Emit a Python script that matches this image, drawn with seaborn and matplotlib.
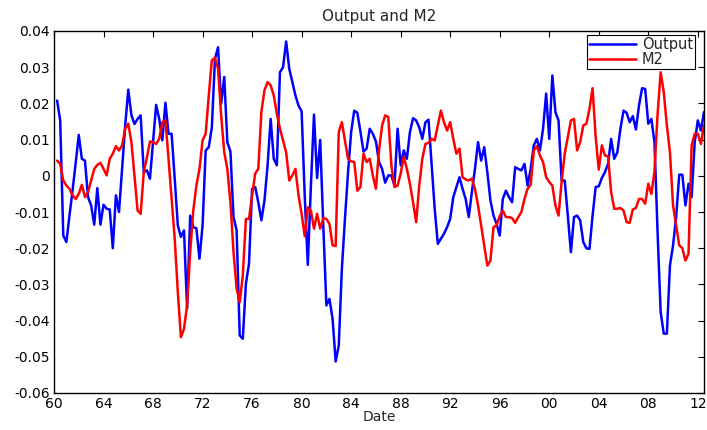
import numpy as np
import pandas as pd
import matplotlib
matplotlib.use("Agg")
import matplotlib.pyplot as plt
import seaborn as sns

# ---- data (quarterly, 1960Q2 .. 2012Q3) ----
start_year = 1960.25
step = 0.25

output = [
    0.0208, 0.0153, -0.0165, -0.0183, -0.0110, -0.0040, 0.0035, 0.0113, 0.0047, 0.0042,
    -0.0059, -0.0082, -0.0135, -0.0034, -0.0135, -0.0080, -0.0091, -0.0093, -0.0200, -0.0054,
    -0.0100, 0.0019, 0.0139, 0.0238, 0.0168, 0.0143, 0.0157, 0.0167, 0.0010, 0.0015,
    -0.0008, 0.0093, 0.0196, 0.0157, 0.0098, 0.0202, 0.0116, 0.0116, -0.0008, -0.0137,
    -0.0169, -0.0151, -0.0367, -0.0110, -0.0142, -0.0145, -0.0229, -0.0137, 0.0070, 0.0079,
    0.0134, 0.0323, 0.0355, 0.0199, 0.0273, 0.0093, 0.0067, -0.0114, -0.0151, -0.0441,
    -0.0450, -0.0298, -0.0243, -0.0036, -0.0031, -0.0073, -0.0123, -0.0068, 0.0029, 0.0157,
    0.0047, 0.0029, 0.0286, 0.0300, 0.0371, 0.0296, 0.0259, 0.0222, 0.0194, 0.0178,
    -0.0054, -0.0246, -0.0027, 0.0169, -0.0006, 0.0099, -0.0137, -0.0358, -0.0340, -0.0395,
    -0.0513, -0.0469, -0.0257, -0.0119, 0.0010, 0.0121, 0.0180, 0.0174, 0.0122, 0.0067,
    0.0075, 0.0130, 0.0116, 0.0095, 0.0038, 0.0019, -0.0019, 0.0001, 0.0001, -0.0027,
    0.0130, 0.0029, 0.0070, 0.0047, 0.0121, 0.0159, 0.0153, 0.0134, 0.0102, 0.0148,
    0.0155, 0.0031, -0.0092, -0.0188, -0.0174, -0.0160, -0.0142, -0.0119, -0.0059, -0.0031,
    -0.0004, -0.0036, -0.0064, -0.0114, -0.0045, 0.0019, 0.0093, 0.0042, 0.0079, 0.0010,
    -0.0068, -0.0110, -0.0133, -0.0165, -0.0064, -0.0041, -0.0059, -0.0073, 0.0024, 0.0019,
    0.0015, 0.0033, -0.0027, 0.0019, 0.0084, 0.0102, 0.0070, 0.0130, 0.0227, 0.0102,
    0.0277, 0.0176, 0.0153, -0.0013, -0.0013, -0.0110, -0.0211, -0.0114, -0.0110, -0.0123,
    -0.0183, -0.0200, -0.0202, -0.0110, -0.0031, -0.0029, -0.0006, 0.0010, 0.0033, 0.0102,
    0.0047, 0.0065, 0.0130, 0.0180, 0.0174, 0.0148, 0.0165, 0.0128, 0.0194, 0.0242,
    0.0240, 0.0144, 0.0157, 0.0093, -0.0156, -0.0377, -0.0436, -0.0436, -0.0248, -0.0192,
    -0.0114, 0.0003, 0.0003, -0.0082, -0.0022, -0.0059, 0.0093, 0.0153, 0.0125, 0.0176,
]

m2 = [
    0.0042, 0.0033, -0.0013, -0.0027, -0.0036, -0.0054, -0.0064, -0.0050, -0.0025, -0.0059,
    -0.0045, -0.0013, 0.0019, 0.0030, 0.0036, 0.0019, 0.0001, 0.0047, 0.0061, 0.0082,
    0.0070, 0.0084, 0.0130, 0.0144, 0.0093, 0.0001, -0.0096, -0.0105, 0.0010, 0.0050,
    0.0095, 0.0093, 0.0088, 0.0102, 0.0148, 0.0153, 0.0047, -0.0064, -0.0174, -0.0321,
    -0.0446, -0.0423, -0.0358, -0.0211, -0.0096, -0.0027, 0.0019, 0.0098, 0.0116, 0.0222,
    0.0319, 0.0326, 0.0296, 0.0167, 0.0065, 0.0019, -0.0073, -0.0211, -0.0312, -0.0349,
    -0.0275, -0.0119, -0.0119, -0.0054, 0.0006, 0.0019, 0.0176, 0.0236, 0.0259, 0.0250,
    0.0222, 0.0171, 0.0130, 0.0098, 0.0065, -0.0013, 0.0001, 0.0019, -0.0054, -0.0105,
    -0.0167, -0.0087, -0.0096, -0.0146, -0.0105, -0.0146, -0.0117, -0.0119, -0.0133, -0.0192,
    -0.0194, 0.0121, 0.0148, 0.0098, 0.0047, 0.0040, 0.0038, -0.0041, -0.0031, 0.0061,
    0.0038, 0.0047, 0.0001, -0.0036, 0.0070, 0.0139, 0.0167, 0.0162, 0.0029, -0.0031,
    -0.0027, 0.0006, 0.0052, 0.0019, -0.0022, -0.0073, -0.0128, -0.0027, 0.0047, 0.0088,
    0.0091, 0.0102, 0.0098, 0.0139, 0.0180, 0.0148, 0.0125, 0.0148, 0.0102, 0.0061,
    0.0075, -0.0004, -0.0010, -0.0013, -0.0008, -0.0036, -0.0082, -0.0137, -0.0192, -0.0248,
    -0.0234, -0.0142, -0.0137, -0.0111, -0.0096, -0.0114, -0.0114, -0.0117, -0.0130, -0.0114,
    -0.0100, -0.0064, -0.0036, -0.0025, 0.0070, 0.0082, 0.0056, 0.0038, -0.0004, -0.0017,
    -0.0027, -0.0082, -0.0110, -0.0017, 0.0061, 0.0107, 0.0153, 0.0157, 0.0070, 0.0093,
    0.0139, 0.0144, 0.0185, 0.0242, 0.0107, 0.0017, 0.0084, 0.0056, 0.0054, -0.0045,
    -0.0091, -0.0091, -0.0089, -0.0096, -0.0128, -0.0130, -0.0093, -0.0089, -0.0064, -0.0064,
    -0.0077, -0.0022, -0.0050, 0.0012, 0.0170, 0.0286, 0.0231, 0.0139, 0.0065, -0.0082,
    -0.0137, -0.0192, -0.0200, -0.0234, -0.0215, 0.0084, 0.0116, 0.0116, 0.0088, 0.0139,
]

series_names = ["Output", "M2"]
x_ticks = list(range(1960, 2013, 4))
x_tick_labels = [f"{y % 100:02d}" for y in x_ticks]
y_ticks = [-0.06, -0.05, -0.04, -0.03, -0.02, -0.01, 0.0, 0.01, 0.02, 0.03, 0.04]
y_tick_labels = ["-0.06", "-0.05", "-0.04", "-0.03", "-0.02", "-0.01", "0",
                 "0.01", "0.02", "0.03", "0.04"]
title = "Output and M2"
x_label = "Date"

# ---- build long-form table ----
dates = start_year + step * np.arange(len(output))
df = pd.concat([
    pd.DataFrame({"Date": dates, "value": output, "series": series_names[0]}),
    pd.DataFrame({"Date": dates, "value": m2, "series": series_names[1]}),
], ignore_index=True)

# ---- style ----
sns.set_style("white")
plt.rcParams["font.family"] = ["DejaVu Sans"]
plt.rcParams["font.size"] = 10

fig = plt.figure(figsize=(7.07, 4.30), dpi=100)
ax = fig.add_axes([54 / 707, 1 - 393 / 430, 650 / 707, 362 / 430])

sns.lineplot(data=df, x="Date", y="value", hue="series",
             palette={"Output": "#0000ff", "M2": "#ff0000"},
             linewidth=1.8, estimator=None, sort=False, ax=ax)

ax.set_xlim(1960, 2012.5)
ax.set_ylim(-0.06, 0.04)
ax.set_xticks(x_ticks)
ax.set_xticklabels(x_tick_labels)
ax.set_yticks(y_ticks)
ax.set_yticklabels(y_tick_labels)
ax.tick_params(direction="in", length=4, width=0.8, top=True, right=True,
               labelsize=10, colors="black", pad=3)
for s in ax.spines.values():
    s.set_visible(True)
    s.set_color("black")
    s.set_linewidth(1.0)

ax.set_title(title, fontsize=11, pad=7)
ax.set_xlabel(x_label, fontsize=10, labelpad=-1)
ax.set_ylabel("")

handles, labels = ax.get_legend_handles_labels()
leg = ax.legend(handles, labels, loc="upper right",
                bbox_to_anchor=(1 - 9 / 650, 1 - 4 / 362), borderaxespad=0,
                prop={"size": 10.5}, frameon=True, fancybox=False, framealpha=1,
                edgecolor="black", handlelength=3.2, handletextpad=0.4,
                labelspacing=0.0, borderpad=0.15)
leg.get_frame().set_linewidth(0.8)

fig.savefig("out.png", dpi=100)
